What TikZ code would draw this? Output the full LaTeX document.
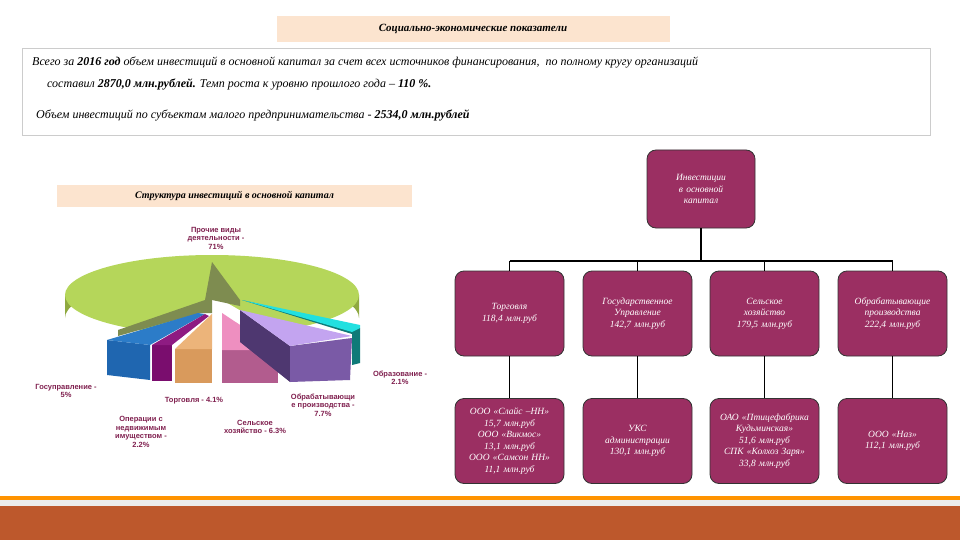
\documentclass[tikz,border=0pt]{standalone}
\usepackage{fontspec}
\setmainfont{Liberation Serif}
\setsansfont{Liberation Sans}
\begin{document}
\begin{tikzpicture}[x=1pt,y=-1pt,
  peach/.style={fill=peachc,draw=none},
  ob/.style={draw=black!80,line width=0.8pt,fill=boxc,rounded corners=9pt,minimum width=109pt,minimum height=85pt,text width=107pt,align=center,text=white,font=\itshape\fontsize{9.5}{11.5}\selectfont,inner sep=0pt},
  lab/.style={font=\sffamily\bfseries\fontsize{7.5}{8.5}\selectfont,text=labc,align=center},
  con/.style={line width=1.8pt,black}]
\definecolor{peachc}{HTML}{FCE4CF}
\definecolor{boxc}{HTML}{9B2F62}
\definecolor{labc}{HTML}{80204F}
\definecolor{gtop}{HTML}{B5D65A}
\definecolor{gside}{HTML}{8FA940}
\definecolor{gwall}{HTML}{7E8C50}
\definecolor{rust}{HTML}{BD582C}
\definecolor{bl1}{HTML}{1F66B0}
\definecolor{bl2}{HTML}{2C7CC8}
\definecolor{pu1}{HTML}{7A0D6E}
\definecolor{pu2}{HTML}{8E1B82}
\definecolor{or1}{HTML}{D99A5C}
\definecolor{or2}{HTML}{ECB47A}
\definecolor{pk1}{HTML}{B25C8E}
\definecolor{pk2}{HTML}{EE8FC0}
\definecolor{te1}{HTML}{0E7A78}
\definecolor{te2}{HTML}{22E0E0}
\definecolor{vi1}{HTML}{4E3770}
\definecolor{vi2}{HTML}{7A5AA6}
\definecolor{vi3}{HTML}{C3A4F0}
\useasboundingbox (0,0) rectangle (960,540);
\fill[white] (0,0) rectangle (960,540);
% bottom bars
\fill[orange!85!yellow] (0,496) rectangle (960,500);
\fill[gray!15] (0,500) rectangle (960,506);
\fill[rust] (0,506) rectangle (960,540);
% title
\node[peach,minimum width=393pt,minimum height=26pt,inner sep=0pt,font=\bfseries\itshape\fontsize{11}{13}\selectfont] (title) at (473,29) {Социально-экономические показатели};
% text box
\node[draw=gray!40,fill=white,minimum width=908pt,minimum height=87pt,inner sep=0pt] (tb) at (476,91.5) {};
\node[anchor=west,inner sep=0pt,font=\itshape\fontsize{12}{14}\selectfont] (t1) at (32,63) {Всего за \textbf{2016 год} объем инвестиций в основной капитал за счет всех источников финансирования, \ по полному кругу организаций};
\node[anchor=west,inner sep=0pt,font=\itshape\fontsize{12}{14}\selectfont] (t2) at (47,84) {составил \textbf{2870,0 млн.рублей.} Темп роста к уровню прошлого года – \textbf{110 \%.}};
\node[anchor=west,inner sep=0pt,font=\itshape\fontsize{12}{14}\selectfont] (t3) at (36,115) {Объем инвестиций по субъектам малого предпринимательства - \textbf{2534,0 млн.рублей}};
% structure title
\node[peach,minimum width=355pt,minimum height=22pt,inner sep=0pt,font=\bfseries\itshape\fontsize{10}{12}\selectfont] (st) at (234.5,196) {Структура инвестиций в основной капитал};
% pie green
\fill[gside] (65,295) -- (65,318) arc[start angle=180,end angle=360,x radius=147,y radius=40] -- (359,295) -- cycle;
\fill[gtop] (212,295) ellipse[x radius=147,y radius=40];
\fill[white] (150,345) -- (212,300) -- (222,300) -- (300,345) -- (300,385) -- (150,385) -- cycle;
\fill[gwall] (212,262) -- (212,313) -- (200,313) -- (118,336) -- (118,330) -- (205,300) -- cycle;
\fill[gwall] (212,262) -- (240,300) -- (240,306) -- (212,300) -- cycle;
% blue
\fill[bl1] (107,340) -- (150,345) -- (150,380) -- (107,375) -- cycle;
\fill[bl2] (107,340) -- (198,313) -- (205,314) -- (150,345) -- cycle;
% purple
\fill[pu1] (152,345) -- (172,345) -- (172,381) -- (152,381) -- cycle;
\fill[pu2] (152,345) -- (205,314) -- (209,316) -- (172,345) -- cycle;
% orange
\fill[or1] (175,349) -- (212,349) -- (212,383) -- (175,383) -- cycle;
\fill[or2] (175,349) -- (212,314) -- (212,349) -- cycle;
% pink
\fill[pk1] (222,350) -- (278,350) -- (278,383) -- (222,383) -- cycle;
\fill[pk2] (222,313) -- (278,350) -- (222,350) -- cycle;
% teal
\fill[te1] (242,300) -- (360,328) -- (360,363) -- (352,365) -- (352,334) -- cycle;
\fill[te2] (242,300) -- (360,325) -- (360,328) -- (352,332) -- cycle;
% violet
\fill[vi1] (240,310) -- (290,346) -- (290,382) -- (240,342) -- cycle;
\fill[vi2] (290,346) -- (352,338) -- (350,380) -- (290,382) -- cycle;
\fill[vi3] (240,310) -- (352,336) -- (290,346) -- cycle;
% labels
\node[lab] (l1) at (216,238) {Прочие виды\\деятельности -\\71\%};
\node[lab] (l2) at (400,378) {Образование -\\2.1\%};
\node[lab] (l3) at (323,405) {Обрабатывающи\\е производства -\\7.7\%};
\node[lab] (l4) at (255,427) {Сельское\\хозяйство - 6.3\%};
\node[lab] (l5) at (194,401) {Торговля - 4.1\%};
\node[lab] (l6) at (141,432) {Операции с\\недвижимым\\имуществом -\\2.2\%};
\node[lab] (l7) at (66,391) {Госуправление -\\5\%};
% org chart
\node[ob,minimum width=108pt,minimum height=78pt,text width=100pt] (root) at (701,189) {Инвестиции\\в основной\\капитал};
\node[ob] (a1) at (509.5,313.5) {Торговля\\118,4 млн.руб};
\node[ob] (a2) at (637.5,313.5) {Государственное\\Управление\\142,7 млн.руб};
\node[ob] (a3) at (764.5,313.5) {Сельское\\хозяйство\\179,5 млн.руб};
\node[ob] (a4) at (892.5,313.5) {Обрабатывающие\\производства\\222,4 млн.руб};
\node[ob] (b1) at (509.5,441) {ООО «Слайс –НН»\\15,7 млн.руб\\ООО «Викмос»\\13,1 млн.руб\\ООО «Самсон НН»\\11,1 млн.руб};
\node[ob] (b2) at (637.5,441) {УКС\\администрации\\130,1 млн.руб};
\node[ob] (b3) at (764.5,441) {ОАО «Птицефабрика\\Кудьминская»\\51,6 млн.руб\\СПК «Колхоз Заря»\\33,8 млн.руб};
\node[ob] (b4) at (892.5,441) {ООО «Наз»\\112,1 млн.руб};
\coordinate (bus) at (701,261);
\draw[con] (root.south) -- (bus);
\foreach \n in {a1,a2,a3,a4}{\draw[con] (\n.north) -- (\n.north |- bus);}
\draw[con] (a1.north |- bus) -- (a4.north |- bus);
\foreach \i in {1,2,3,4}{\draw[con] (a\i.south) -- (b\i.north);}
\end{tikzpicture}
\end{document}
